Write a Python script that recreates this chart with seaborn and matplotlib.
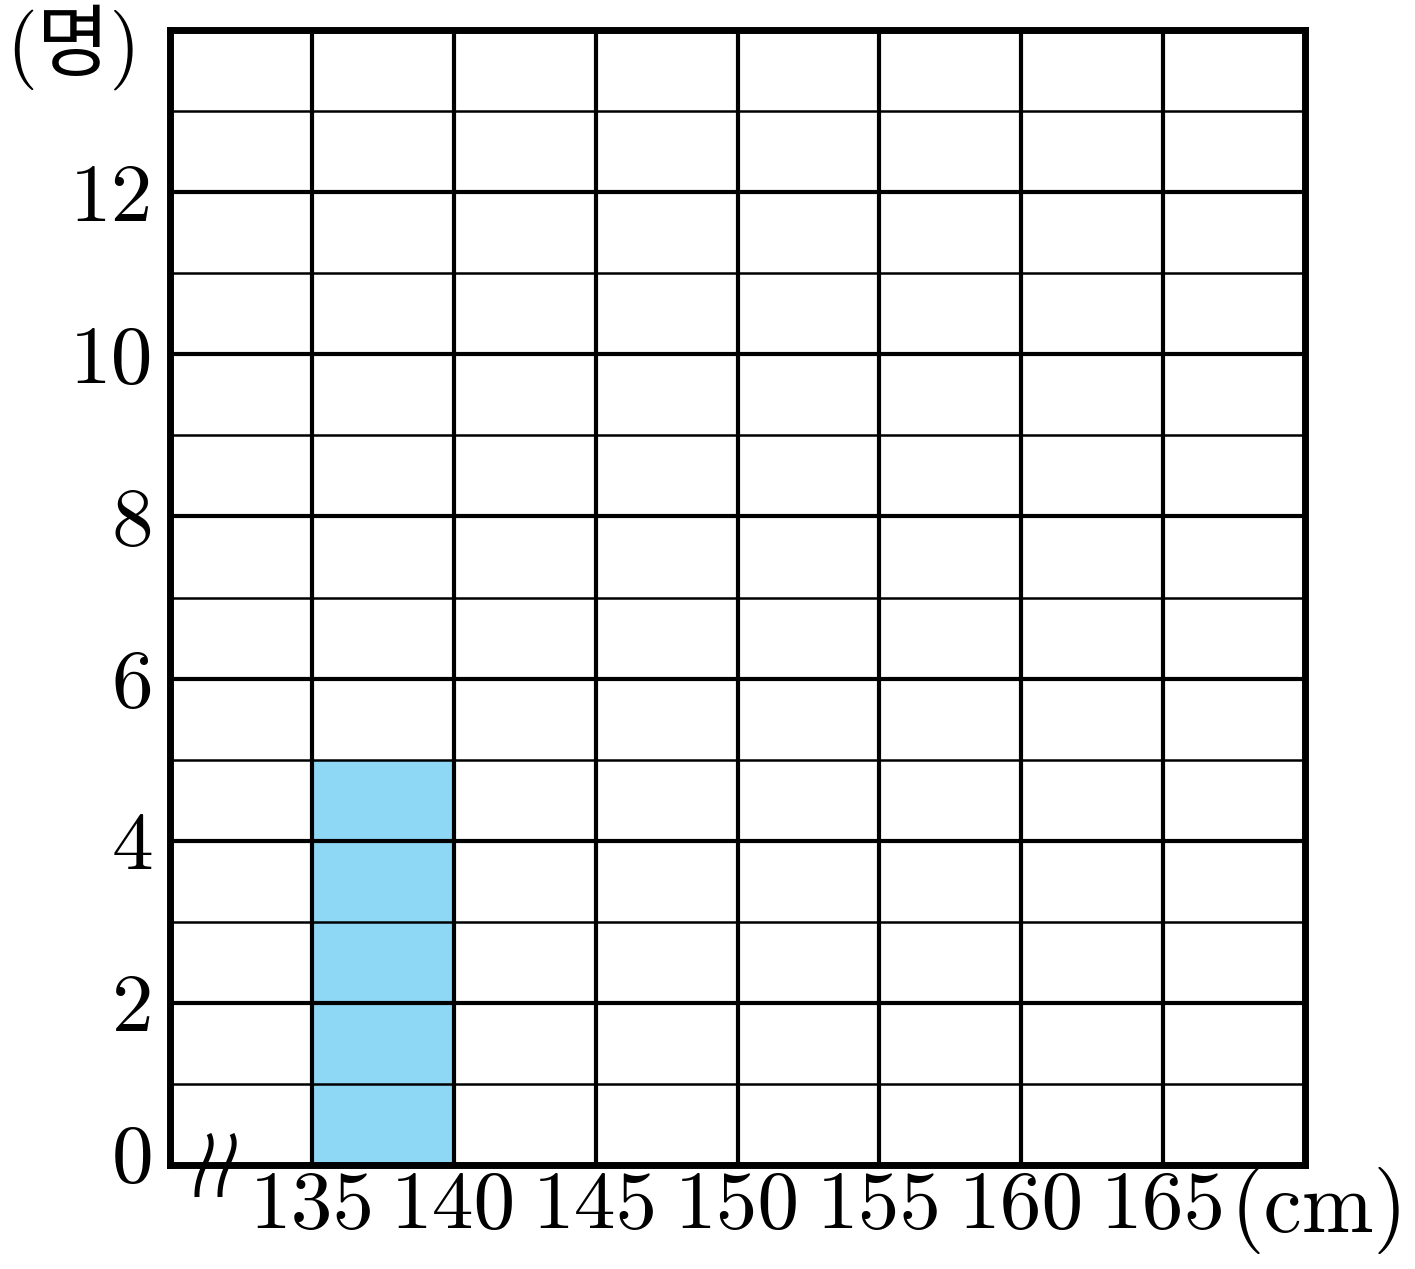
import numpy as np
import matplotlib
matplotlib.use("Agg")
import matplotlib.pyplot as plt
import matplotlib.transforms as mtransforms
from matplotlib.lines import Line2D
from matplotlib.ticker import MultipleLocator, FixedLocator
import seaborn as sns

# ---- data ----
bin_edges = [135, 140]
bin_centers = [137.5]
counts = [5]
x_ticks = [135, 140, 145, 150, 155, 160, 165]
y_ticks = [0, 2, 4, 6, 8, 10, 12]
x_unit = "(cm)"
y_unit = "(명)"
bar_color = "#8ED8F6"

sns.set_theme(style="white")
plt.rcParams['font.family'] = ['cmr10', 'Noto Sans CJK KR', 'DejaVu Sans']
plt.rcParams['axes.formatter.use_mathtext'] = True
plt.rcParams['text.color'] = 'black'
plt.rcParams['xtick.color'] = 'black'
plt.rcParams['ytick.color'] = 'black'
plt.rcParams['xtick.labelcolor'] = 'black'
plt.rcParams['ytick.labelcolor'] = 'black'

W, H = 1415, 1269
fig = plt.figure(figsize=(W / 100, H / 100), dpi=100)
L, R, B, T = 170 / W, 1305 / W, 1 - 1165 / H, 1 - 30 / H
ax = fig.add_axes([L, B, R - L, T - B])

sns.histplot(x=bin_centers, weights=counts, bins=bin_edges, ax=ax,
             color=bar_color, alpha=1, edgecolor="none", linewidth=0, zorder=1)

ax.set_xlim(130, 170)
ax.set_ylim(0, 14)
ax.set_xlabel("")
ax.set_ylabel("")

ax.xaxis.set_major_locator(FixedLocator(x_ticks))
ax.set_xticklabels([str(v) for v in x_ticks])
ax.yaxis.set_major_locator(FixedLocator(y_ticks))
ax.set_yticklabels([str(v) for v in y_ticks])
ax.yaxis.set_minor_locator(MultipleLocator(1))

ax.tick_params(axis='both', which='both', length=0, colors='black')
ax.tick_params(axis='x', labelsize=60, pad=4)
ax.tick_params(axis='y', labelsize=60, pad=12)

# lift the "0" label slightly, as in the reference
lbl0 = ax.get_yticklabels()[0]
lbl0.set_transform(lbl0.get_transform() +
                   mtransforms.ScaledTranslation(0, 12 / 100, fig.dpi_scale_trans))

# grid
ax.grid(False)
for v in x_ticks:
    ax.axvline(v, color="black", lw=3.0, zorder=3)
for v in range(1, 14):
    ax.axhline(v, color="black", lw=3.0 if v % 2 == 0 else 1.8, zorder=3)

for s in ax.spines.values():
    s.set_visible(True)
    s.set_color("black")
    s.set_linewidth(5.0)
    s.set_zorder(4)

# unit labels
fig.text(6 / W, 1 - 47 / H, y_unit, fontsize=57, ha="left", va="center",
         color="black", family=['cmr10', 'Noto Sans CJK KR'])
fig.text(1408 / W, 1 - 1210 / H, x_unit, fontsize=62, ha="right", va="center",
         color="black")

# axis break symbol (two S-shaped strokes, cubic Bezier in pixel coords)
t = np.linspace(0, 1, 80)[:, None]
for dx in (0, 23):
    P = np.array([[209, 1134], [218, 1152], [196, 1168], [197, 1197]], float)
    P[:, 0] += dx
    pts = ((1 - t) ** 3) * P[0] + 3 * ((1 - t) ** 2) * t * P[1] \
        + 3 * (1 - t) * t ** 2 * P[2] + t ** 3 * P[3]
    fig.add_artist(Line2D(pts[:, 0] / W, 1 - pts[:, 1] / H, color="black",
                          lw=3.6, transform=fig.transFigure, clip_on=False,
                          solid_capstyle="butt", zorder=5))

fig.savefig("out.png", dpi=100, facecolor="white")
